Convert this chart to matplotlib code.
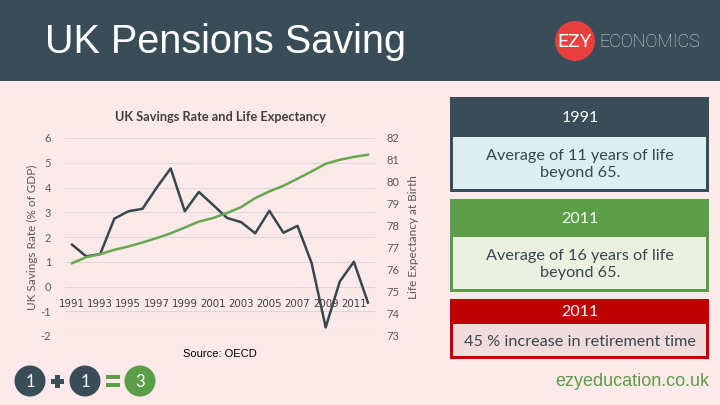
import matplotlib
matplotlib.use("Agg")
import matplotlib.pyplot as plt
from matplotlib.patches import Rectangle, Circle

plt.rcParams["axes.unicode_minus"] = False

years = list(range(1991, 2013))
savings_rate = [1.69, 1.22, 1.31, 2.74, 3.04, 3.14, 3.99, 4.77, 3.04, 3.82, 3.3, 2.77,
                2.6, 2.15, 3.06, 2.17, 2.45, 0.95, -1.65, 0.2, 1.0, -0.65]
life_exp = [76.31, 76.58, 76.72, 76.92, 77.07, 77.25, 77.45, 77.67, 77.93, 78.2, 78.36, 78.59,
            78.86, 79.27, 79.57, 79.83, 80.15, 80.48, 80.83, 81.01, 81.14, 81.24]
tick_years = years[::2]
left_ticks = list(range(-2, 7))
right_ticks = list(range(73, 83))

boxes = [
    ("1991", "Average of 11 years of life\nbeyond 65."),
    ("2011", "Average of 16 years of life\nbeyond 65."),
    ("2011", "45 % increase in retirement time"),
]

DARK = "#384d57"
GREEN = "#5a9e47"
RED = "#c00000"
BG = "#fde9ea"

fig = plt.figure(figsize=(7.2, 4.05), dpi=100)
fig.patch.set_facecolor(BG)

# page decorations in pixel coordinates
bg = fig.add_axes([0, 0, 1, 1])
bg.set_xlim(0, 720)
bg.set_ylim(405, 0)
bg.axis("off")
bg.add_patch(Rectangle((0, 0), 720, 81, color=DARK, lw=0))
bg.text(45, 42, "UK Pensions Saving", color="white", fontsize=28.5,
        family="Liberation Sans", va="center", ha="left")
bg.add_patch(Circle((575, 41), 20, color="#e8413d", lw=0))
bg.text(575, 42, "EZY", color="white", fontsize=14, family="Roboto",
        ha="center", va="center")
bg.text(599, 42, "ECONOMICS", color="#d5dde0", fontsize=13, family="Roboto",
        fontweight="light", ha="left", va="center")

box_geo = [(97, 137, 192, DARK, "#daeef4"),
           (199, 237, 292, GREEN, "#ebf1df"),
           (299, 324, 359, RED, "#f2dbdb")]
for (head, body), (top, mid, bot, edge, fill) in zip(boxes, box_geo):
    bg.add_patch(Rectangle((450, top), 259, bot - top, color=edge, lw=0))
    bg.add_patch(Rectangle((453, mid), 253, bot - mid - 3, color=fill, lw=0))
    bg.text(580, (top + mid) / 2 + 1, head, color="white", fontsize=11.5,
            family="Lato", ha="center", va="center")
    bg.text(580, (mid + bot) / 2, body, color="#37474f", fontsize=11.7,
            family="Lato", ha="center", va="center", linespacing=1.3)

bg.text(183, 354, "Source: OECD", fontsize=8, family="Liberation Sans",
        ha="left", va="center", color="black")
bg.text(709, 382, "ezyeducation.co.uk", fontsize=13, family="Liberation Sans",
        ha="right", va="center", color=GREEN)

for cx, label, col in [(30, "1", DARK), (85, "1", DARK), (140, "3", GREEN)]:
    bg.add_patch(Circle((cx, 381), 15.5, color=col, lw=0))
    bg.text(cx, 382, label, color="white", fontsize=12, family="Lato",
            ha="center", va="center")
bg.add_patch(Rectangle((51, 379), 13, 4.5, color=DARK, lw=0))
bg.add_patch(Rectangle((55.3, 374.5), 4.5, 13.5, color=DARK, lw=0))
bg.add_patch(Rectangle((106, 374.5), 14, 4.5, color=GREEN, lw=0))
bg.add_patch(Rectangle((106, 382.5), 14, 4.5, color=GREEN, lw=0))

# chart
ax = fig.add_axes([65 / 720, 1 - 336 / 405, 310 / 720, 198 / 405])
ax.set_facecolor("none")
ax2 = ax.twinx()
ax.plot(years, savings_rate, color="#37474f", lw=1.8, zorder=3)
ax2.plot(years, life_exp, color="#65a84e", lw=1.8, zorder=3)

ax.set_xlim(1990.5, 2012.5)
ax.set_ylim(-2, 6)
ax2.set_ylim(73, 82)
ax.set_yticks(left_ticks)
ax2.set_yticks(right_ticks)
ax.set_xticks(tick_years)
ax.set_xticklabels([str(y) for y in tick_years])
ax.grid(axis="y", color="#d9d9d9", lw=0.8)
ax.set_axisbelow(True)

for a in (ax, ax2):
    for s in a.spines.values():
        s.set_visible(False)
    a.tick_params(length=0, labelsize=8, labelcolor="#595959")
    for lab in a.get_xticklabels() + a.get_yticklabels():
        lab.set_family("Lato")
ax.spines["bottom"].set_position(("data", 0))
ax.tick_params(axis="x", pad=9, labelcolor="#404040", labelsize=7.4)
ax.tick_params(axis="y", pad=10)
ax2.tick_params(axis="y", pad=8)

ax.set_ylabel("UK Savings Rate (% of GDP)", fontsize=8.5, family="Lato",
              color="#595959", labelpad=2)
ax2.set_ylabel("Life Expectancy at Birth", fontsize=8.5, family="Lato",
               color="#595959", labelpad=6)
ax.set_title("UK Savings Rate and Life Expectancy", fontsize=9.2, family="Lato",
             fontweight="bold", color="#404040", pad=12)

fig.savefig("out.png", dpi=100, facecolor=fig.get_facecolor())
